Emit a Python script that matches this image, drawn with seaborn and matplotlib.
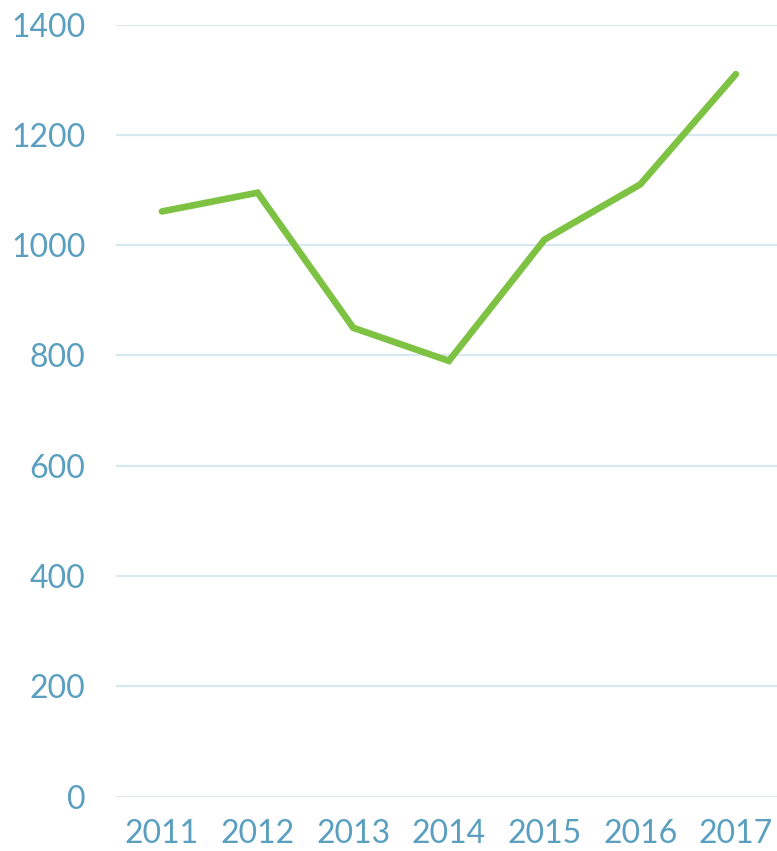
import matplotlib
matplotlib.use("Agg")
import matplotlib.pyplot as plt
import seaborn as sns
import pandas as pd

years = ["2011", "2012", "2013", "2014", "2015", "2016", "2017"]
values = [1061, 1095, 850, 790, 1010, 1110, 1310]
y_ticks = [0, 200, 400, 600, 800, 1000, 1200, 1400]

sns.set_style("white")
plt.rcParams["font.family"] = ["Lato", "DejaVu Sans"]

df = pd.DataFrame({"year": years, "value": values})

fig = plt.figure(figsize=(7.77, 8.51), dpi=100)
ax = fig.add_axes([0.1493, 0.064, 0.8507, 0.9072])

sns.lineplot(data=df, x="year", y="value", ax=ax, color="#7DC242",
             linewidth=4.8, solid_capstyle="round", solid_joinstyle="miter", sort=False)

ax.set_ylim(0, 1400)
ax.set_xlim(-0.48, 6.43)
ax.set_yticks(y_ticks)
ax.yaxis.grid(True, color="#D8E8F0", linewidth=1.6)
ax.xaxis.grid(False)
ax.set_axisbelow(True)
for s in ax.spines.values():
    s.set_visible(False)

ax.tick_params(axis="both", length=0, labelsize=23, labelcolor="#5A9FC0")
ax.tick_params(axis="y", pad=22)
ax.tick_params(axis="x", pad=16)
ax.set_xlabel("")
ax.set_ylabel("")

fig.savefig("out.png", dpi=100)
